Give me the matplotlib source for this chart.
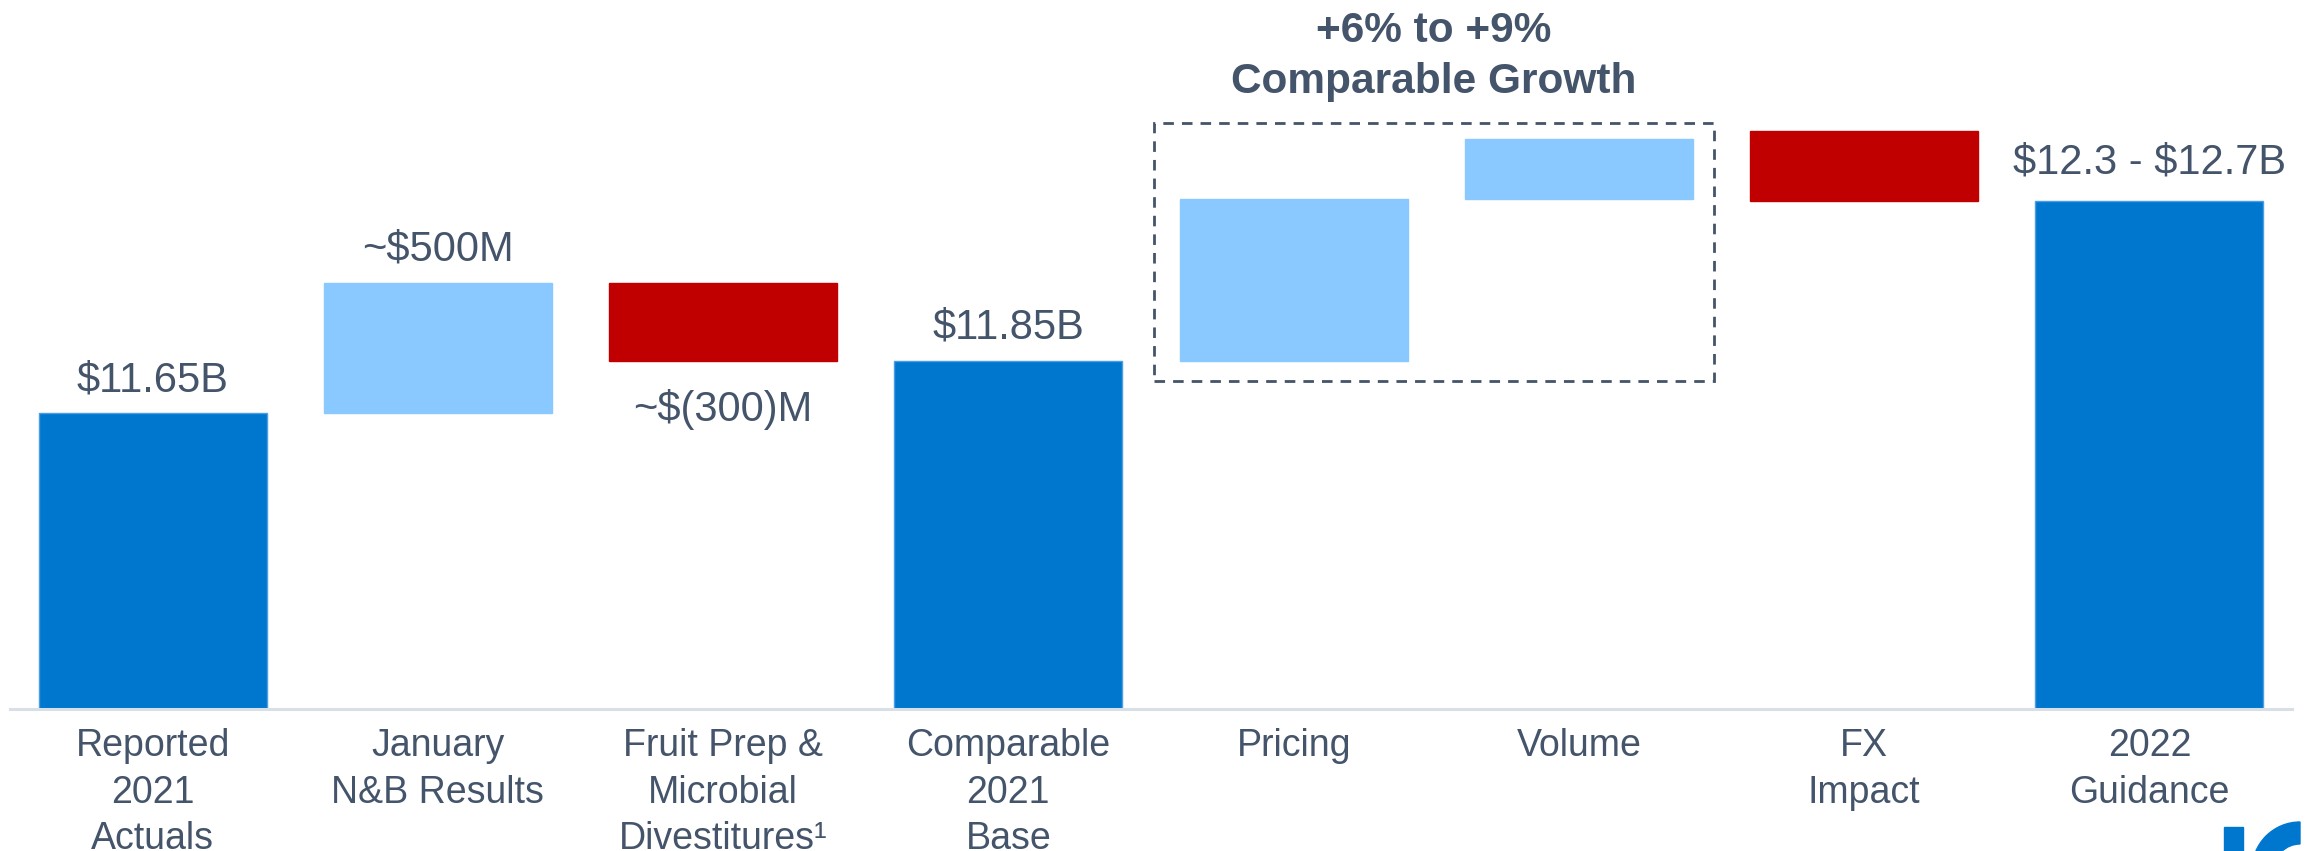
import numpy as np
import matplotlib.pyplot as plt
from matplotlib.patches import Rectangle, Wedge

plt.rcParams['font.family'] = ['Liberation Sans', 'DejaVu Sans']

''' DATA '''

# waterfall steps, values in $B (totals start from 0)
categories = ['Reported\n2021\nActuals', 'January\nN&B Results',
              'Fruit Prep &\nMicrobial\nDivestitures\u00b9',
              'Comparable\n2021\nBase', 'Pricing', 'Volume', 'FX\nImpact',
              '2022\nGuidance']
bar_start = [0, 11.65, 12.15, 0, 11.85, 12.47, 12.73, 0]
bar_end = [11.65, 12.15, 11.85, 11.85, 12.47, 12.70, 12.46, 12.46]
value_labels = ['$11.65B', '~$500M', '~$(300)M', '$11.85B', '', '', '',
                '$12.3 - $12.7B']
bracket_bars = [4, 5]
bracket_title = '+6% to +9%\nComparable Growth'

y_floor, y_top = 10.52, 13.23

''' STYLE '''

TEXT = '#44546A'
DARK = '#0077CF'
LIGHT = '#89C9FF'
RED = '#C00000'

''' PLOT '''

W, H = 2317, 851
fig = plt.figure(figsize=(W / 100, H / 100), dpi=100)
ax = fig.add_axes([10 / W, 142 / H, 2282 / W, 709 / H])

x = np.arange(len(categories))
start = np.array(bar_start)
end = np.array(bar_end)
bottom = np.minimum(start, end)
height = np.abs(end - start)

colors, edges = [], []
for s, e in zip(start, end):
    if s == 0:
        colors.append(DARK)
        edges.append('#4C9DE4')
    elif e > s:
        colors.append(LIGHT)
        edges.append(LIGHT)
    else:
        colors.append(RED)
        edges.append(RED)

ax.bar(x, height, bottom=bottom, width=0.8, color=colors,
       edgecolor=edges, linewidth=1)

ax.set_xlim(-0.5, 7.5)
ax.set_ylim(y_floor, y_top)
for side in ['top', 'left', 'right']:
    ax.spines[side].set_visible(False)
ax.spines['bottom'].set_color('#D9DFE7')
ax.spines['bottom'].set_linewidth(2.2)
ax.spines['bottom'].set_zorder(3)
ax.set_yticks([])
ax.set_xticks(x, categories, fontsize=27, color=TEXT, linespacing=1.38)
ax.tick_params(axis='x', length=0, pad=13.7)

# value labels: above the bar, or below it for a decrease
for i, lbl in enumerate(value_labels):
    if not lbl:
        continue
    if end[i] < start[i] and start[i] != 0:
        ax.annotate(lbl, (x[i], bottom[i]), xytext=(0, -43),
                    textcoords='offset points', ha='center', va='baseline',
                    fontsize=30, color=TEXT, parse_math=False)
    else:
        off = 20 if i == len(value_labels) - 1 else 16
        ax.annotate(lbl, (x[i], bottom[i] + height[i]), xytext=(0, off),
                    textcoords='offset points', ha='center', va='baseline',
                    fontsize=30, color=TEXT, parse_math=False)

# dashed bracket around pricing + volume
lo = bottom[bracket_bars].min()
hi = (bottom + height)[bracket_bars].max()
bx0 = bracket_bars[0] - 0.49
bx1 = bracket_bars[-1] + 0.475
by0 = lo - 0.075
by1 = hi + 0.06
ax.add_patch(Rectangle((bx0, by0), bx1 - bx0, by1 - by0, fill=False,
                       edgecolor=TEXT, linewidth=2,
                       linestyle=(0, (3.8, 2.9)), clip_on=False))
ax.text((bx0 + bx1) / 2, by1 + 0.115, bracket_title, ha='center',
        va='baseline', fontsize=30.5, fontweight='bold', color=TEXT,
        linespacing=1.36)

# logo fragment in the bottom right corner
fig.patches.append(Rectangle((22.24, 0), 0.19, 0.24, color=DARK,
                             transform=fig.dpi_scale_trans))
fig.patches.append(Wedge((23.0, -0.19), 0.48, 90, 180, width=0.22,
                         color=DARK, transform=fig.dpi_scale_trans))

fig.savefig('out.png', dpi=100, facecolor='white')
